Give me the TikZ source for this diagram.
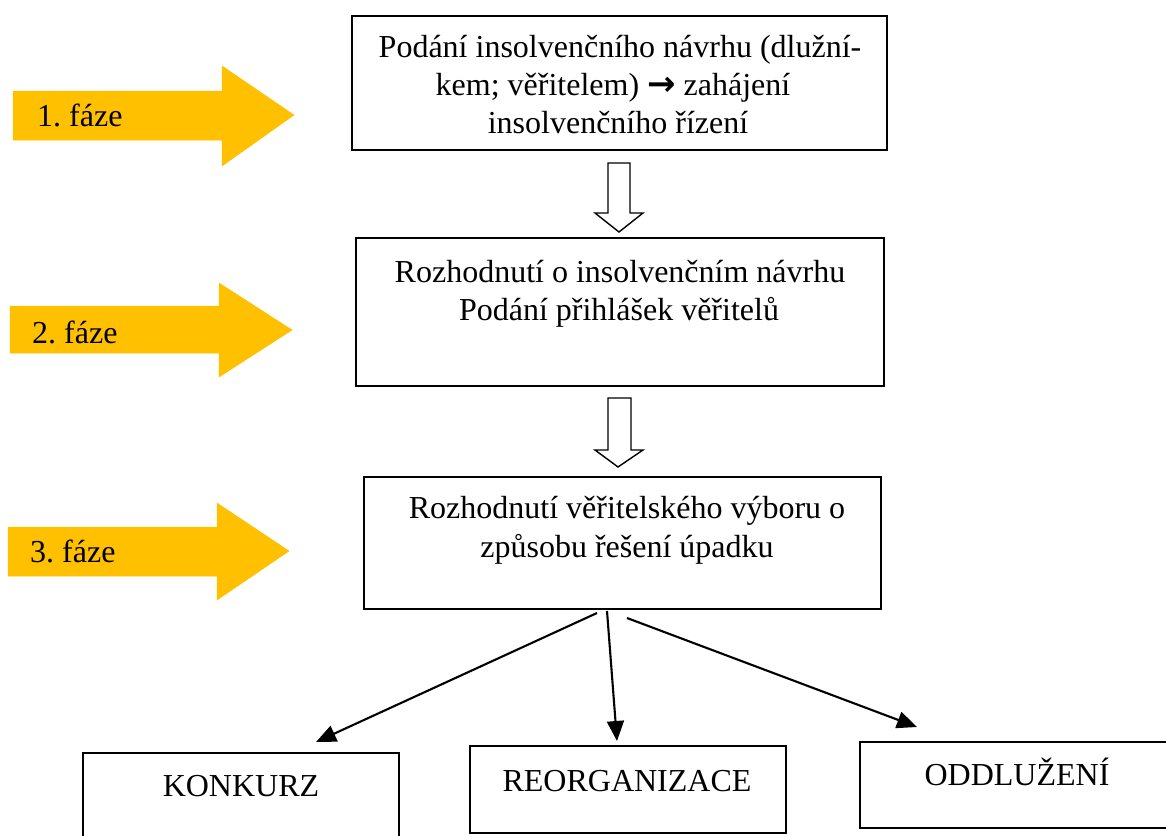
\documentclass[tikz,border=0pt]{standalone}
\usepackage{fontspec}
\setmainfont{Liberation Serif}
\newfontfamily\arrowfont{DejaVu Sans}
\usetikzlibrary{arrows.meta}
\definecolor{phase}{HTML}{FFC000}
\frenchspacing
\begin{document}
\begin{tikzpicture}[x=1pt,y=-1pt,
  box/.style={draw,line width=1.9pt,inner sep=0pt},
  txt/.style={anchor=base,inner sep=0pt,font=\fontsize{32}{38}\selectfont},
  phasetxt/.style={anchor=base west,inner sep=0pt,font=\fontsize{32}{38}\selectfont},
  phasearrow/.style={fill=phase,draw=phase,line width=0.5pt},
  hollow/.style={draw,line width=1.4pt,fill=white,line join=miter},
  conn/.style={line width=2.1pt,-{Triangle[length=20pt,width=17pt]}}]
\useasboundingbox (0,0) rectangle (1166,835);
\clip (0,0) rectangle (1166,835);

% phase arrows
\fill[phasearrow] (13,91) -- (222,91) -- (222,66) -- (294,115) -- (222,166) -- (222,140) -- (13,140) -- cycle;
\fill[phasearrow] (10,306) -- (219,306) -- (219,283) -- (292,330) -- (219,377) -- (219,353) -- (10,353) -- cycle;
\fill[phasearrow] (8,527) -- (217,527) -- (217,503) -- (289,551) -- (217,600) -- (217,576) -- (8,576) -- cycle;
\node[phasetxt] (f1) at (37,126) {1. fáze};
\node[phasetxt] (f2) at (32,343) {2. fáze};
\node[phasetxt] (f3) at (30,562) {3. fáze};

% main boxes
\node[box,minimum width=535pt,minimum height=134pt] (b1) at (619.5,83) {};
\node[txt] (b1a) at (620,57) {Podání insolvenčního návrhu (dlužní-};
\node[txt] (b1b) at (613,95) {kem; věřitelem) {\arrowfont\bfseries\fontsize{34}{38}\selectfont →} zahájení};
\node[txt] (b1c) at (618,133) {insolvenčního řízení};

\node[box,minimum width=528pt,minimum height=148pt] (b2) at (620,312) {};
\node[txt] (b2a) at (620,282) {Rozhodnutí o insolvenčním návrhu};
\node[txt] (b2b) at (619,320) {Podání přihlášek věřitelů};

\node[box,minimum width=517pt,minimum height=132pt] (b3) at (622.5,543) {};
\node[txt] (b3a) at (627,518) {Rozhodnutí věřitelského výboru o};
\node[txt] (b3b) at (627,557) {způsobu řešení úpadku};

% hollow block arrows
\filldraw[hollow] (608,163) -- (630,163) -- (630,213) -- (643,213) -- (619,232) -- (595,213) -- (608,213) -- cycle;
\filldraw[hollow] (608,398) -- (631,398) -- (631,450) -- (643,450) -- (618,467) -- (595,450) -- (608,450) -- cycle;

% result boxes
\node[box,minimum width=316pt,minimum height=107pt] (k) at (241,806.5) {};
\node[txt] (kt) at (241,796) {KONKURZ};
\node[box,minimum width=316pt,minimum height=87pt] (r) at (628,789.5) {};
\node[txt] (rt) at (627,791) {REORGANIZACE};
\node[box,minimum width=315pt,minimum height=86pt] (o) at (1017.5,785) {};
\node[txt] (ot) at (1017,785) {ODDLUŽENÍ};

% connectors
\coordinate (s1) at (597,613);
\coordinate (e1) at (316,742);
\coordinate (s2) at (607,611);
\coordinate (e2) at (617,741);
\coordinate (s3) at (627,618);
\coordinate (e3) at (917,727);
\draw[conn] (s1) -- (e1);
\draw[conn] (s2) -- (e2);
\draw[conn] (s3) -- (e3);
\end{tikzpicture}
\end{document}
